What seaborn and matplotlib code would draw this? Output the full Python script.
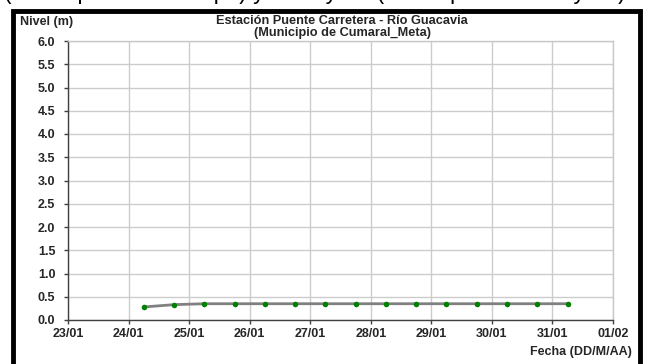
import matplotlib
matplotlib.use("Agg")
import matplotlib.pyplot as plt
import matplotlib.dates as mdates
from matplotlib.patches import Rectangle
import pandas as pd
import seaborn as sns

# data
times = pd.to_datetime([
    "2013-01-24 06:00", "2013-01-24 18:00", "2013-01-25 06:00", "2013-01-25 18:00",
    "2013-01-26 06:00", "2013-01-26 18:00", "2013-01-27 06:00", "2013-01-27 18:00",
    "2013-01-28 06:00", "2013-01-28 18:00", "2013-01-29 06:00", "2013-01-29 18:00",
    "2013-01-30 06:00", "2013-01-30 18:00", "2013-01-31 06:00",
])
nivel = [0.28, 0.33, 0.35, 0.35, 0.35, 0.35, 0.35, 0.35,
         0.35, 0.35, 0.35, 0.35, 0.35, 0.35, 0.35]
y_ticks = [0.0, 0.5, 1.0, 1.5, 2.0, 2.5, 3.0, 3.5, 4.0, 4.5, 5.0, 5.5, 6.0]
x_start, x_end = "2013-01-23", "2013-02-01"

title = "Estación Puente Carretera - Río Guacavia\n(Municipio de Cumaral_Meta)"
top_caption = "(Municipio de Restrepo) y Cabuyaro (Municipio de Cabuyaro)"

sns.set_theme(style="whitegrid")
plt.rcParams["font.family"] = ["Liberation Sans", "DejaVu Sans"]

df = pd.DataFrame({"fecha": times, "nivel": nivel})

W, H = 650, 364
fig = plt.figure(figsize=(W / 100, H / 100), dpi=100)
ax = fig.add_axes([68 / W, 1 - 320 / H, (613 - 68) / W, (320 - 41) / H])

sns.lineplot(data=df, x="fecha", y="nivel", ax=ax, color="#808080", linewidth=2, zorder=3)
sns.scatterplot(data=df, x="fecha", y="nivel", ax=ax, color="#008000", s=16,
                edgecolor="#008000", linewidth=0, zorder=4)

ax.set_xlim(pd.Timestamp(x_start), pd.Timestamp(x_end))
ax.set_ylim(0, 6.0)
ax.set_yticks(y_ticks)
ax.yaxis.set_major_formatter(matplotlib.ticker.FormatStrFormatter("%.1f"))
ax.xaxis.set_major_locator(mdates.DayLocator())
ax.xaxis.set_major_formatter(mdates.DateFormatter("%d/%m"))

ax.grid(True, color="#cccccc", linewidth=1)
ax.set_facecolor("white")
for side in ["top", "right"]:
    ax.spines[side].set_color("#c8c8c8")
    ax.spines[side].set_linewidth(1)
for side in ["left", "bottom"]:
    ax.spines[side].set_color("#404040")
    ax.spines[side].set_linewidth(1)

ax.tick_params(axis="both", which="major", length=3, width=1, color="#404040",
               direction="out", labelsize=9, bottom=True, left=True)
ax.tick_params(axis="y", pad=6)
ax.tick_params(axis="x", pad=3)
for lbl in ax.get_xticklabels() + ax.get_yticklabels():
    lbl.set_fontweight("bold")
ax.set_xlabel("")
ax.set_ylabel("")

fig.text(342 / W, 1 - 27 / H, title, ha="center", va="center", fontsize=9.2,
         fontweight="bold", linespacing=0.95)
fig.text(20 / W, 1 - 22 / H, "Nivel (m)", ha="left", va="center", fontsize=9,
         fontweight="bold")
fig.text(632 / W, 1 - 352 / H, "Fecha (DD/M/AA)", ha="right", va="center",
         fontsize=9, fontweight="bold")
fig.text(4 / W, 1 + 0.5 / H, top_caption, ha="left", va="baseline", fontsize=16.5,
         color="black")

frame = Rectangle((13 / W, -0.05), (640 - 13) / W, (1 - 10.5 / H) + 0.05,
                  transform=fig.transFigure, fill=False, edgecolor="black",
                  linewidth=3.5, clip_on=False)
fig.patches.append(frame)

fig.savefig("out.png", dpi=100)
